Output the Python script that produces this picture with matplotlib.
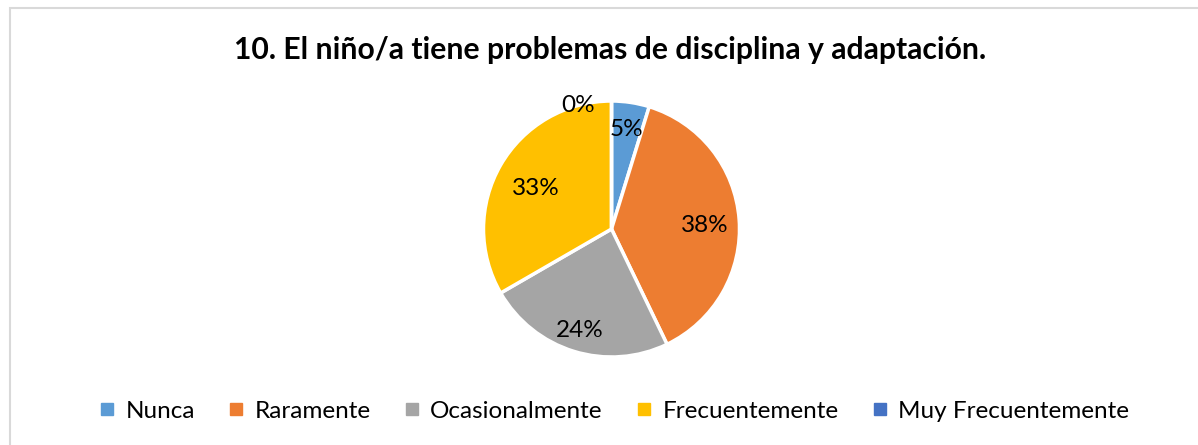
import matplotlib
matplotlib.use("Agg")
import matplotlib.pyplot as plt
from matplotlib.lines import Line2D
from matplotlib.patches import Rectangle
import numpy as np

plt.rcParams['font.family'] = ['Lato', 'DejaVu Sans']

title = "10. El niño/a tiene problemas de disciplina y adaptación."
categories = ["Nunca", "Raramente", "Ocasionalmente", "Frecuentemente", "Muy Frecuentemente"]
counts = [1, 8, 5, 7, 0]
pct_labels = ["5%", "38%", "24%", "33%", "0%"]
colors = ["#5B9BD5", "#ED7D31", "#A5A5A5", "#FFC000", "#4472C4"]

# label placement style (radial distance factor, angle offset in degrees)
label_dist = [0.79, 0.73, 0.83, 0.67, 1.0]
label_off = [0, -2, 0, 2, 15]

W, H = 1198, 445
fig = plt.figure(figsize=(W / 100, H / 100), dpi=100)
fig.patch.set_facecolor("white")

# chart frame
fig.add_artist(Rectangle((10 / W, -0.1), 1.2, 1 - 8 / H + 0.1, transform=fig.transFigure,
                         fill=False, edgecolor="#D9D9D9", linewidth=1.5))

fig.text(610 / W, 1 - 50 / H, title, ha="center", va="center", fontsize=21.7,
         fontweight="bold", color="black")

cx, cy, r = 611.5, 229, 128
ax = fig.add_axes([(cx - r) / W, (H - cy - r) / H, 2 * r / W, 2 * r / H])
wedges, _ = ax.pie(counts, colors=colors, startangle=90, counterclock=False,
                   wedgeprops=dict(edgecolor="white", linewidth=2.5))
ax.set_xlim(-1, 1)
ax.set_ylim(-1, 1)
ax.set_aspect("auto")
ax.axis("off")

for w, lab, d, off in zip(wedges, pct_labels, label_dist, label_off):
    ang = np.deg2rad((w.theta1 + w.theta2) / 2 + off)
    ax.text(d * np.cos(ang), d * np.sin(ang), lab, ha="center", va="center",
            fontsize=17.5, color="black", clip_on=False)

handles = [Line2D([0], [0], marker="s", linestyle="none", markersize=8,
                  markerfacecolor=c, markeredgecolor=c) for c in colors]
fig.legend(handles, categories, loc="center", bbox_to_anchor=(614 / W, 1 - 411 / H),
           ncol=5, frameon=False, fontsize=17.5, handlelength=0.7, handletextpad=0.4,
           columnspacing=1.35)

fig.savefig("out.png", dpi=100)
